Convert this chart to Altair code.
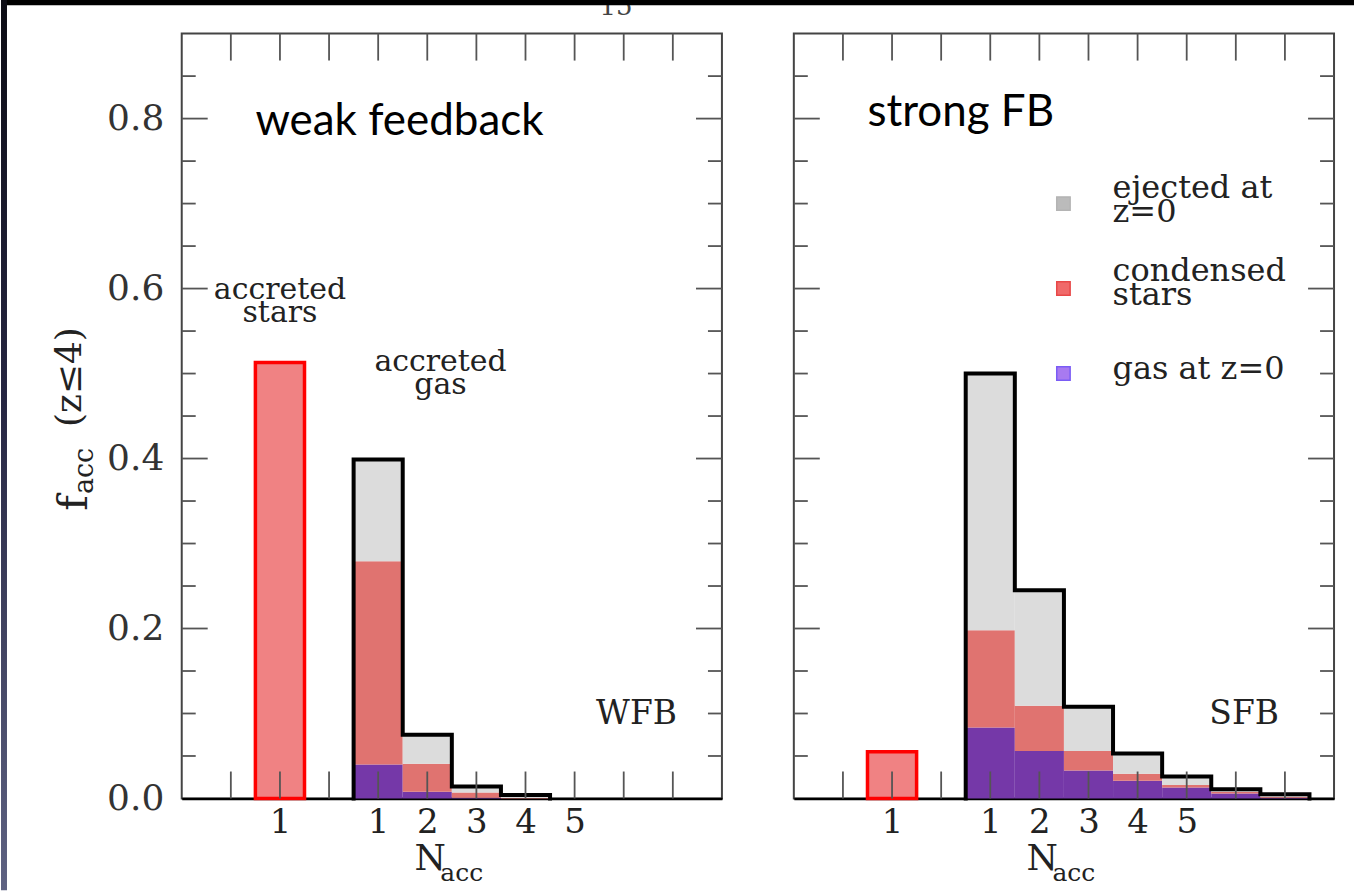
import altair as alt
import pandas as pd

# plot area of each panel (pixels) and data ranges
W, H = 541, 766
XMAX, YMAX = 11, 0.9

# accreted-stars bar sits at x = 2; gas bin N_acc = n sits at x = 3 + n
stars_x = 2
gas_n = [1, 2, 3, 4, 5, 6, 7]
gas_x = [4, 5, 6, 7, 8, 9, 10]

# weak feedback run
wfb_stars = 0.513
wfb_gas = [0.040, 0.008, 0.001, 0.000, 0.0, 0.0, 0.0]
wfb_cond = [0.239, 0.033, 0.006, 0.0005, 0.0, 0.0, 0.0]
wfb_ejec = [0.120, 0.034, 0.007, 0.0035, 0.0, 0.0, 0.0]

# strong feedback run
sfb_stars = 0.055
sfb_gas = [0.0835, 0.056, 0.033, 0.021, 0.013, 0.006, 0.001]
sfb_cond = [0.1145, 0.053, 0.023, 0.008, 0.003, 0.002, 0.001]
sfb_ejec = [0.302, 0.136, 0.052, 0.024, 0.010, 0.003, 0.003]

# gas components, bottom to top
comp_names = ["gas at z=0", "condensed stars", "ejected at z=0"]
comp_colors = ["#7538A8", "#E07370", "#DCDCDC"]

# legend entries (top to bottom)
legend_lines = ["ejected at\nz=0", "condensed\nstars", "gas at z=0"]
legend_fill = ["#BBBBBB", "#F06A6A", "#A87AF0"]
legend_stroke = ["#B4B4B4", "#E84848", "#7A5CF5"]

# axis labels and tick marks
xlab_pos = [2, 4, 5, 6, 7, 8]
xlab_txt = ["1", "1", "2", "3", "4", "5"]
ylab_pos = [0.0, 0.2, 0.4, 0.6, 0.8]
x_ticks = [1, 2, 3, 4, 5, 6, 7, 8, 9, 10]
y_major = [0.2, 0.4, 0.6, 0.8]
y_minor = [0.05, 0.1, 0.15, 0.25, 0.3, 0.35, 0.45, 0.5, 0.55,
           0.65, 0.7, 0.75, 0.85]

SERIF = "DejaVu Serif"
SANS = "Lato"
TICK = "#555555"
INK = "#222222"


def label_expr(pos, txt):
    expr = "''"
    for p, t in reversed(list(zip(pos, txt))):
        expr = f"datum.value == {p} ? '{t}' : ({expr})"
    return expr


def stack_table(gas, cond, ejec):
    rows = []
    for x, g, c, e in zip(gas_x, gas, cond, ejec):
        lo = 0.0
        for name, v in zip(comp_names, [g, c, e]):
            if v > 0:
                rows.append(dict(x=x - 0.5, x2=x + 0.5, y=lo, y2=lo + v, comp=name))
            lo += v
    return pd.DataFrame(rows)


def outline_table(gas, cond, ejec):
    totals = [g + c + e for g, c, e in zip(gas, cond, ejec)]
    last = max(i for i, t in enumerate(totals) if t > 0)
    pts = [(gas_x[0] - 0.5, 0.0)]
    for i in range(last + 1):
        pts += [(gas_x[i] - 0.5, totals[i]), (gas_x[i] + 0.5, totals[i])]
    pts.append((gas_x[last] + 0.5, 0.0))
    return pd.DataFrame([dict(i=k, x=x, y=y) for k, (x, y) in enumerate(pts)])


xs = alt.Scale(domain=[0, XMAX], nice=False, zero=False)
ys = alt.Scale(domain=[0, YMAX], nice=False, zero=False)


def X(field, **kw):
    return alt.X(field, type="quantitative", scale=xs, title=None, **kw)


def Y(field, **kw):
    return alt.Y(field, type="quantitative", scale=ys, title=None, **kw)


def panel(stars, gas, cond, ejec, title, tag, first):
    x_axis = alt.Axis(
        values=xlab_pos, labelExpr=label_expr(xlab_pos, xlab_txt),
        ticks=False, grid=False, domain=True, domainColor="#000000", domainWidth=2.5,
        labelFont=SERIF, labelFontSize=34, labelColor=INK, labelPadding=7,
    )
    if first:
        y_kw = dict(axis=alt.Axis(
            values=ylab_pos, format=".1f", ticks=False, grid=False,
            domain=False, labelFont=SERIF, labelFontSize=36, labelColor="#333333",
            labelPadding=18,
        ))
        y_rest = {}
    else:
        y_kw = dict(axis=None)
        y_rest = dict(axis=None)

    bars = alt.Chart(stack_table(gas, cond, ejec)).mark_rect().encode(
        x=X("x", axis=x_axis), x2="x2", y=Y("y", **y_kw), y2="y2",
        color=alt.Color("comp:N", legend=None,
                        scale=alt.Scale(domain=comp_names, range=comp_colors)),
    )

    outline = alt.Chart(outline_table(gas, cond, ejec)).mark_line(
        color="#000000", strokeWidth=4, strokeJoin="miter", strokeCap="square"
    ).encode(x=X("x"), y=Y("y", **y_rest), order="i:Q")

    star_df = pd.DataFrame([dict(x=stars_x - 0.5, x2=stars_x + 0.5, y=0.0, y2=stars)])
    star_bar = alt.Chart(star_df).mark_rect(
        fill="#F08283", stroke="#FF0000", strokeWidth=3.5
    ).encode(x=X("x"), x2="x2", y=Y("y", **y_rest), y2="y2")

    xt = pd.DataFrame({"v": x_ticks})
    ymaj = pd.DataFrame({"v": y_major})
    ymin = pd.DataFrame({"v": y_minor})
    rule = dict(color=TICK, strokeWidth=1.8)
    ticks = [
        alt.Chart(xt).mark_rule(**rule).encode(x=X("v"), y=alt.value(0), y2=alt.value(27)),
        alt.Chart(xt).mark_rule(**rule).encode(x=X("v"), y=alt.value(H - 27), y2=alt.value(H)),
        alt.Chart(ymaj).mark_rule(**rule).encode(y=Y("v", **y_rest), x=alt.value(0), x2=alt.value(26)),
        alt.Chart(ymin).mark_rule(**rule).encode(y=Y("v", **y_rest), x=alt.value(0), x2=alt.value(14)),
        alt.Chart(ymaj).mark_rule(**rule).encode(y=Y("v", **y_rest), x=alt.value(W - 26), x2=alt.value(W)),
        alt.Chart(ymin).mark_rule(**rule).encode(y=Y("v", **y_rest), x=alt.value(W - 14), x2=alt.value(W)),
    ]

    # panel heading and run tag
    head = alt.Chart(pd.DataFrame([dict(x=1.5, y=title[1], t=title[0])])).mark_text(
        font=SANS, fontSize=44, align="left", baseline="alphabetic", color="#000000"
    ).encode(x=X("x"), y=Y("y", **y_rest), text="t:N")
    tag_txt = alt.Chart(pd.DataFrame([dict(x=tag[1], y=0.088, t=tag[0])])).mark_text(
        font=SERIF, fontSize=33, align="center", baseline="alphabetic", color=INK
    ).encode(x=X("x"), y=Y("y", **y_rest), text="t:N")

    # x-axis title N_acc
    n_title = [
        alt.Chart(pd.DataFrame([dict(t="N")])).mark_text(
            font=SERIF, fontSize=36, align="left", baseline="alphabetic", color=INK
        ).encode(x=alt.value(233), y=alt.value(H + 72), text="t:N"),
        alt.Chart(pd.DataFrame([dict(t="acc")])).mark_text(
            font=SERIF, fontSize=25, align="left", baseline="alphabetic", color=INK
        ).encode(x=alt.value(259), y=alt.value(H + 83), text="t:N"),
    ]

    return [bars, star_bar, outline] + ticks + [head, tag_txt] + n_title


left_layers = panel(wfb_stars, wfb_gas, wfb_cond, wfb_ejec,
                    ("weak feedback", 0.781), ("WFB", 9.26), True)
right_layers = panel(sfb_stars, sfb_gas, sfb_cond, sfb_ejec,
                     ("strong FB", 0.791), ("SFB", 9.17), False)

# annotations in the weak-feedback panel
notes = pd.DataFrame([
    dict(x=2.0, y=0.5875, t="accreted\nstars"),
    dict(x=5.27, y=0.503, t="accreted\ngas"),
])
note_txt = alt.Chart(notes).mark_text(
    font=SERIF, fontSize=30, align="center", baseline="alphabetic",
    lineBreak="\n", lineHeight=23, color=INK
).encode(x=X("x"), y=Y("y"), text="t:N")

# y-axis title f_acc (z<=4), drawn rotated left of the axis
ytitle = [
    alt.Chart(pd.DataFrame([dict(t="f")])).mark_text(
        font=SERIF, fontSize=42, angle=270, align="center", baseline="alphabetic",
        color=INK).encode(x=alt.value(-95), y=alt.value(470), text="t:N"),
    alt.Chart(pd.DataFrame([dict(t="acc")])).mark_text(
        font=SERIF, fontSize=27, angle=270, align="center", baseline="alphabetic",
        color=INK).encode(x=alt.value(-89), y=alt.value(438), text="t:N"),
    alt.Chart(pd.DataFrame([dict(t="(z≤4)")])).mark_text(
        font=SERIF, fontSize=36, angle=270, align="center", baseline="alphabetic",
        color=INK).encode(x=alt.value(-101), y=alt.value(344), text="t:N"),
]

# page number and slide border
page_no = alt.Chart(pd.DataFrame([dict(t="15")])).mark_text(
    font=SERIF, fontSize=26, align="center", baseline="alphabetic", color="#444444"
).encode(x=alt.value(435), y=alt.value(-19), text="t:N")
band = alt.Chart(pd.DataFrame([dict(k=1)])).mark_rect(color="#000000").encode(
    x=alt.value(-181), x2=alt.value(1174), y=alt.value(-34), y2=alt.value(-28.5))
strip = alt.Chart(pd.DataFrame([dict(k=1)])).mark_rect(
    color=alt.Gradient(
        gradient="linear", x1=0, x2=0, y1=0, y2=1,
        stops=[alt.GradientStop(offset=0, color="#0c0c14"),
               alt.GradientStop(offset=0.45, color="#262642"),
               alt.GradientStop(offset=1, color="#5e6282")])
).encode(x=alt.value(-181), x2=alt.value(-175), y=alt.value(-34), y2=alt.value(858))

# legend in the strong-feedback panel
leg = pd.DataFrame(dict(
    x=[5.49] * 3, y=[0.70, 0.60, 0.50], ty=[0.707, 0.609, 0.494], tx=[6.49] * 3,
    t=legend_lines, fill=legend_fill, stroke=legend_stroke,
))
leg_sq = alt.Chart(leg).mark_square(size=180, opacity=1, strokeWidth=1.5).encode(
    x=X("x"), y=Y("y", axis=None),
    fill=alt.Fill("fill:N", scale=None), stroke=alt.Stroke("stroke:N", scale=None))
leg_txt = alt.Chart(leg).mark_text(
    font=SERIF, fontSize=32, align="left", baseline="alphabetic",
    lineBreak="\n", lineHeight=24, color=INK
).encode(x=X("tx"), y=Y("ty", axis=None), text="t:N")

left = alt.layer(*left_layers, note_txt, *ytitle, page_no, band, strip).properties(
    width=W, height=H)
right = alt.layer(*right_layers, leg_sq, leg_txt).properties(width=W, height=H)

chart = alt.hconcat(
    left, right, spacing=72, bounds="flush", background="white",
    padding={"top": -8, "left": 0, "right": 0, "bottom": 0},
).configure_view(stroke="#444444", strokeWidth=2)

chart.save("out.html", embed_options={"renderer": "svg", "actions": False})
